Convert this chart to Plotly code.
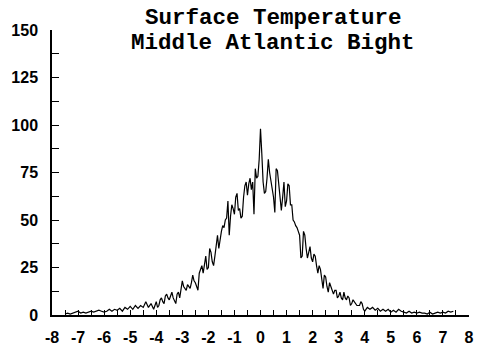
import plotly.graph_objects as go

# sample positions (standardized temperature anomaly)
x_left = [-7.5, -7.4, -7.3, -7.2, -7.1, -7.0, -6.9, -6.8, -6.7, -6.6, -6.5, -6.4, -6.3, -6.2, -6.1,
          -6.0, -5.9, -5.8, -5.7, -5.6, -5.5, -5.4, -5.3, -5.2, -5.1, -5.0, -4.9, -4.8, -4.7, -4.6,
          -4.5, -4.4, -4.3, -4.2, -4.1]
y_left = [0.5, 1, 0.5, 1, 1.5, 2, 1, 1.5, 1, 1.5, 2, 1.5, 2, 2.5, 2,
          1.5, 2, 3, 2, 3, 2.5, 3.5, 2, 4, 3, 4.5, 3, 5, 3.5, 5,
          4, 7, 4, 6, 3]

x_mid = [-4.0, -3.95, -3.9, -3.85, -3.8, -3.75, -3.7, -3.65, -3.6, -3.55, -3.5, -3.45, -3.4, -3.35,
         -3.3, -3.25, -3.2, -3.15, -3.1, -3.05, -3.0, -2.95, -2.9, -2.85, -2.8, -2.75, -2.7, -2.65,
         -2.6, -2.55, -2.5, -2.45, -2.4, -2.35, -2.3, -2.25, -2.2, -2.15, -2.1, -2.05, -2.0, -1.95,
         -1.9, -1.85, -1.8, -1.75, -1.7, -1.65, -1.6, -1.55, -1.5, -1.45, -1.4, -1.35, -1.3, -1.25,
         -1.2, -1.15, -1.1, -1.05, -1.0, -0.95, -0.9, -0.85, -0.8, -0.75, -0.7, -0.65, -0.6, -0.55,
         -0.5, -0.45, -0.4, -0.35, -0.3, -0.25, -0.2, -0.15, -0.1, -0.05, 0.0, 0.05, 0.1, 0.15,
         0.2, 0.25, 0.3, 0.35, 0.4, 0.45, 0.5, 0.55, 0.6, 0.65, 0.7, 0.75, 0.8, 0.85,
         0.9, 0.95, 1.0, 1.05, 1.1, 1.15, 1.2, 1.25, 1.3, 1.35, 1.4, 1.45, 1.5, 1.55,
         1.6, 1.65, 1.7, 1.75, 1.8, 1.85, 1.9, 1.95, 2.0, 2.05, 2.1, 2.15, 2.2, 2.25,
         2.3, 2.35, 2.4, 2.45, 2.5, 2.55, 2.6, 2.65, 2.7, 2.75, 2.8, 2.85, 2.9, 2.95,
         3.0, 3.05, 3.1, 3.15, 3.2, 3.25, 3.3, 3.35, 3.4, 3.45, 3.5, 3.55, 3.6, 3.65,
         3.7, 3.75, 3.8, 3.85, 3.9, 3.95, 4.0]
y_mid = [7, 4, 5, 8, 9, 7, 6, 10, 11, 9, 8, 10, 12, 9,
         7, 6, 11, 12, 9, 14, 18, 15, 14, 13, 16, 15, 14, 17,
         21, 18, 17, 15, 13, 22, 24, 26, 22, 28, 31, 24, 25, 35,
         33, 28, 26, 31, 38, 42, 35, 40, 44, 47, 46, 50, 51, 60,
         42, 52, 58, 56, 53, 62, 64, 55, 56, 51, 52, 62, 68, 70,
         63, 69, 72, 66, 70, 53, 77, 72, 73, 82, 98, 85, 70, 64,
         65, 72, 82, 75, 70, 66, 62, 54, 77, 76, 68, 63, 55, 62,
         70, 57, 60, 69, 68, 58, 58, 50, 49, 47, 46, 44, 42, 30,
         31, 44, 42, 35, 30, 33, 36, 30, 28, 32, 31, 26, 22, 26,
         24, 19, 14, 21, 20, 15, 12, 17, 15, 12, 11, 13, 13, 9,
         10, 12, 9, 8, 12, 9, 8, 10, 9, 5, 6, 8, 7, 6,
         5, 5, 5, 7, 6, 3, 2]

x_right = [4.1, 4.2, 4.3, 4.4, 4.5, 4.6, 4.7, 4.8, 4.9, 5.0, 5.1, 5.2, 5.3, 5.4, 5.5,
           5.6, 5.7, 5.8, 5.9, 6.0, 6.1, 6.2, 6.3, 6.4, 6.5, 6.6, 6.7, 6.8, 6.9, 7.0,
           7.1, 7.2, 7.3, 7.4]
y_right = [4, 3, 4, 2.5, 3.5, 2, 3, 2, 3, 1.5, 2.5, 1.5, 3, 2, 1.5,
           1, 2, 1, 1.5, 1, 1.5, 1, 1, 0.5, 1.5, 0.5, 1, 1.5, 1, 1.5,
           1, 2, 1.5, 2]

x_vals = x_left + x_mid + x_right
y_vals = y_left + y_mid + y_right

x_ticks = [v / 2 for v in range(-16, 17)]
x_labels = [str(int(v)) if v == int(v) else "" for v in x_ticks]
y_ticks = [v * 12.5 for v in range(0, 13)]
y_labels = [str(int(v)) if v % 25 == 0 else "" for v in y_ticks]

title_lines = ["Surface Temperature", "Middle Atlantic Bight"]

tick_font = dict(family="Liberation Sans, Arial", size=16, color="black", weight="bold")
title_font = dict(family="Liberation Mono, Courier New, monospace", size=22.5, color="black", weight="bold")

fig = go.Figure()
fig.add_trace(go.Scatter(x=x_vals, y=y_vals, mode="lines",
                         line=dict(color="black", width=1.2), showlegend=False))

fig.update_layout(
    width=482, height=354,
    margin=dict(l=52, r=8, t=30, b=36),
    paper_bgcolor="white", plot_bgcolor="white",
    xaxis=dict(range=[-8, 8], tickvals=x_ticks, ticktext=x_labels,
               ticks="inside", ticklen=5, tickcolor="black", tickwidth=1,
               showline=True, linecolor="black", linewidth=1.5,
               showgrid=False, zeroline=False,
               tickfont=tick_font, ticklabelstandoff=7),
    yaxis=dict(range=[0, 150], tickvals=y_ticks, ticktext=y_labels,
               ticks="inside", ticklen=7, tickcolor="black", tickwidth=1,
               showline=True, linecolor="black", linewidth=1.5,
               showgrid=False, zeroline=False,
               tickfont=tick_font, ticklabelstandoff=9),
    annotations=[
        dict(text=title_lines[0], xref="paper", yref="paper", x=0.531, y=1.043,
             xanchor="center", yanchor="middle", showarrow=False, font=title_font),
        dict(text=title_lines[1], xref="paper", yref="paper", x=0.531, y=0.953,
             xanchor="center", yanchor="middle", showarrow=False, font=title_font),
    ],
)

fig.write_html("out.html")
